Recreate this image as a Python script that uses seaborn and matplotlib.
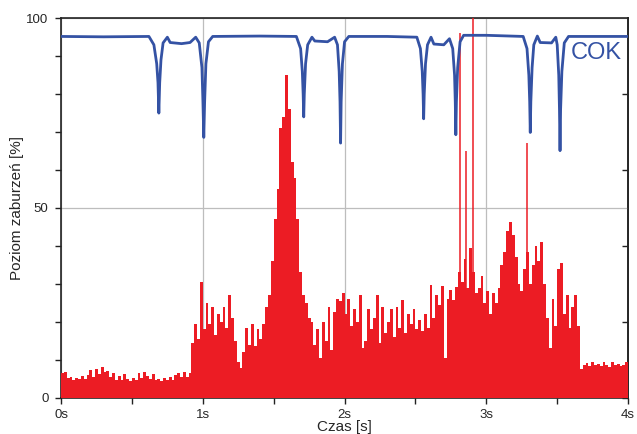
import numpy as np
import pandas as pd
import matplotlib
matplotlib.use('Agg')
import matplotlib.pyplot as plt
import seaborn as sns

# red disturbance level, one value per 0.02 s bin (0 - 4 s)
red_step = 0.02
red_vals = [
    6.5, 6.8, 5.2, 5.5, 4.8, 5.3, 5.0, 5.6, 4.9, 6.0,
    7.2, 5.5, 7.5, 6.2, 8.0, 6.8, 7.0, 5.4, 6.5, 4.8,
    5.6, 4.6, 6.2, 5.0, 4.4, 5.3, 4.8, 6.6, 5.2, 6.8,
    5.8, 4.9, 6.2, 4.6, 4.9, 4.5, 5.1, 4.8, 5.5, 4.6,
    5.9, 6.5, 5.5, 6.8, 5.4, 6.4, 14.5, 19.5, 15.5, 30.5,
    18, 25, 19.5, 24, 16.5, 22, 20, 24, 18.5, 27,
    21, 15, 9.5, 7.8, 12, 18.5, 14, 19.5, 13.5, 18,
    15.5, 19.5, 24, 27, 36, 47, 55, 71, 74, 85,
    76, 62, 58, 47, 33, 27, 25, 21, 20, 14,
    18, 10.5, 20, 15, 24, 12.6, 22.5, 26, 25.5, 27.5,
    22, 26, 19, 23.5, 20, 27, 13, 15, 23.5, 18,
    21, 27, 14.5, 24, 17, 20, 23.5, 16, 24, 18.5,
    25.7, 17, 22, 19.5, 23.5, 18, 20.5, 17.5, 22, 18.5,
    29.7, 21, 27, 24.5, 29.5, 10.5, 26, 28.5, 25.7, 29.2,
    33, 30.5, 36.5, 29, 39.5, 33, 27.5, 29, 32, 25,
    28, 22, 27.5, 25, 29, 35, 38.5, 44, 46.3, 43,
    37, 30, 28, 34, 38.5, 30, 35, 40, 36, 41,
    30, 21, 13, 26, 19, 34, 35.5, 22, 27, 18.5,
    24, 27, 19, 7.5, 8.6, 9.2, 8.3, 9.3, 8.5, 9.0,
    8.4, 9.4, 8.6, 8.2, 9.3, 8.5, 9.0, 8.4, 8.7, 9.4,
]

# isolated tall spikes
spike_t = [2.811, 2.856, 2.907, 3.287]
spike_v = [96, 65, 100, 67]

# COK curve (blue)
cok_t = [0.00, 0.30, 0.62, 0.655, 0.675, 0.684, 0.690, 0.696, 0.705, 0.72, 0.75,
         0.77, 0.85, 0.91, 0.95, 0.975, 0.994, 1.001, 1.007, 1.013, 1.022, 1.04, 1.07,
         1.40, 1.66, 1.69, 1.702, 1.708, 1.712, 1.716, 1.725, 1.74, 1.77,
         1.79, 1.88, 1.93, 1.95, 1.962, 1.968, 1.972, 1.976, 1.985, 2.00, 2.03,
         2.30, 2.51, 2.535, 2.548, 2.554, 2.558, 2.562, 2.571, 2.585, 2.61,
         2.63, 2.70, 2.74, 2.763, 2.776, 2.781, 2.785, 2.789, 2.798, 2.815, 2.84,
         3.00, 3.26, 3.287, 3.300, 3.306, 3.310, 3.314, 3.323, 3.335, 3.36,
         3.38, 3.46, 3.49, 3.50, 3.511, 3.516, 3.520, 3.524, 3.533, 3.55, 3.58, 4.00]
cok_v = [95.2, 95.1, 95.2, 93.0, 88.0, 83.0, 75.0, 83.0, 89.0, 93.5, 95.0,
         93.6, 93.3, 93.6, 95.0, 93.5, 87.0, 78.0, 68.6, 78.0, 88.0, 93.8, 95.2,
         95.3, 95.2, 92.0, 86.0, 80.0, 74.0, 80.0, 88.0, 93.0, 95.0,
         94.0, 93.8, 95.0, 93.0, 86.0, 78.0, 67.1, 78.0, 88.0, 93.8, 95.2,
         95.2, 95.0, 92.0, 86.0, 80.0, 73.5, 80.0, 88.0, 93.0, 95.0,
         93.2, 93.0, 94.6, 92.0, 85.0, 78.0, 69.3, 78.0, 87.0, 93.8, 95.5,
         95.5, 95.2, 92.0, 85.0, 78.0, 69.9, 78.0, 87.0, 93.0, 95.3,
         93.6, 93.5, 95.0, 93.0, 85.0, 76.0, 65.1, 76.0, 86.0, 93.5, 95.2, 95.2]

red = '#ec1c24'
blue = '#3452a4'

sns.set_style('ticks')
plt.rcParams['font.family'] = ['Liberation Sans', 'DejaVu Sans']

fig = plt.figure(figsize=(6.37, 4.34), dpi=100)
ax = fig.add_axes([0.0958, 0.0836, 0.8902, 0.8744])

n_bins = len(red_vals)
red_df = pd.DataFrame({'t': (np.arange(n_bins) + 0.5) * red_step, 'v': red_vals})
sns.histplot(data=red_df, x='t', weights='v', bins=n_bins,
             binrange=(0, n_bins * red_step), color=red, alpha=1,
             linewidth=0, ax=ax, zorder=3)
ax.vlines(spike_t, 0, spike_v, color=red, linewidth=1.1, zorder=3)

sns.lineplot(x=cok_t, y=cok_v, color=blue, linewidth=2.0, ax=ax, zorder=4)
ax.text(3.595, 90.8, 'COK', color=blue, fontsize=17, va='center', ha='left')

ax.set_xlim(0, 4)
ax.set_ylim(0, 100)
ax.set_xticks([0, 1, 2, 3, 4])
ax.set_xticklabels(['0s', '1s', '2s', '3s', '4s'])
ax.set_xticks(np.arange(0, 4.01, 0.5), minor=True)
ax.set_yticks([0, 50, 100])
ax.set_yticks(np.arange(0, 101, 10), minor=True)
ax.grid(True, which='major', color='#bdbdbd', linewidth=0.9, zorder=0)
ax.set_axisbelow(True)

ax.tick_params(axis='both', which='both', direction='out', length=4, width=1,
               labelsize=9.5, color='#222222')
ax.tick_params(axis='x', pad=4)
ax.tick_params(axis='y', pad=5)

sec = ax.secondary_yaxis('right')
sec.set_yticks([0, 20, 40, 60, 80])
sec.set_yticklabels([])
sec.tick_params(direction='in', length=4, width=1, color='#222222')

for s in ax.spines.values():
    s.set_visible(True)
    s.set_linewidth(1.2)
    s.set_color('#222222')
sec.spines['right'].set_linewidth(1.2)

ax.set_xlabel('Czas [s]', fontsize=11)
ax.xaxis.set_label_coords(0.5, -0.06)
ax.set_ylabel('Poziom zaburzeń [%]', fontsize=11, labelpad=1.5)

fig.savefig('out.png', dpi=100)
